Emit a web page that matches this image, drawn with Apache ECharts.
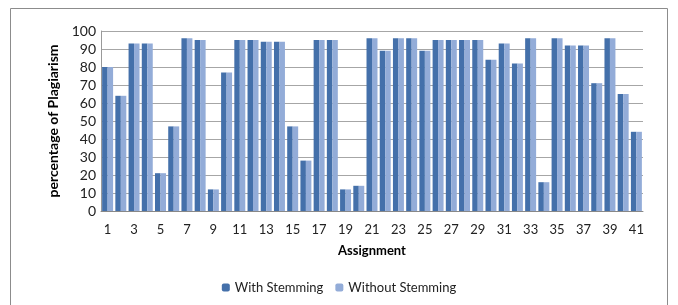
<!DOCTYPE html>
<html><head><meta charset="utf-8">
<script src="https://cdn.jsdelivr.net/npm/echarts@6/dist/echarts.min.js"></script>
<style>html,body{margin:0;padding:0;background:#fff}#c{width:678px;height:305px}</style>
</head><body><div id="c"></div>
<script>
const categories = ["1","2","3","4","5","6","7","8","9","10","11","12","13","14","15","16","17","18","19","20","21","22","23","24","25","26","27","28","29","30","31","32","33","34","35","36","37","38","39","40","41"];
const withStemming = [80,64,93,93,21,47,96,95,12,77,95,95,94,94,47,28,95,95,12,14,96,89,96,96,89,95,95,95,95,84,93,82,96,16,96,92,92,71,96,65,44];
const withoutStemming = [80,64,93,93,21,47,96,95,12,77,95,95,94,94,47,28,95,95,12,14,96,89,96,96,89,95,95,95,95,84,93,82,96,16,96,92,92,71,96,65,44];
const yTicks = {min:0, max:100, interval:10};
const font = "Lato, 'Open Sans', sans-serif";
const chart = echarts.init(document.getElementById('c'), null, {renderer:'canvas'});
chart.setOption({
  animation:false,
  graphic:[{type:'rect', shape:{x:10.5,y:8.5,width:657,height:300}, style:{fill:'none', stroke:'#8c8c8c', lineWidth:1}, silent:true}],
  grid:{left:101, right:35, top:31, bottom:94},
  legend:{bottom:6, left:'center', itemWidth:8, itemHeight:8, itemGap:12,
    textStyle:{fontFamily:font, fontSize:13, color:'#222'},
    data:['With Stemming','Without Stemming']},
  xAxis:{type:'category', data:categories, name:'Assignment', nameLocation:'middle', nameGap:33,
    nameTextStyle:{fontFamily:font, fontSize:13, fontWeight:'bold', color:'#000'},
    axisLine:{lineStyle:{color:'#888'}}, axisTick:{show:false},
    axisLabel:{interval:1, fontFamily:font, fontSize:13, color:'#222', margin:12}},
  yAxis:{type:'value', min:yTicks.min, max:yTicks.max, interval:yTicks.interval,
    name:'percentage of Plagiarism', nameLocation:'middle', nameGap:41, nameRotate:90,
    nameTextStyle:{fontFamily:font, fontSize:14, fontWeight:'bold', color:'#000'},
    axisLine:{show:true, lineStyle:{color:'#999'}}, axisTick:{show:false},
    splitLine:{lineStyle:{color:'#a6a6a6'}},
    axisLabel:{fontFamily:font, fontSize:14, color:'#222', margin:5}},
  series:[
    {name:'With Stemming', type:'bar', data:withStemming, barGap:'0%', barCategoryGap:'17%',
      itemStyle:{color:'#4470aa'}},
    {name:'Without Stemming', type:'bar', data:withoutStemming,
      itemStyle:{color:'#93acd8'}}
  ]
});
</script></body></html>
